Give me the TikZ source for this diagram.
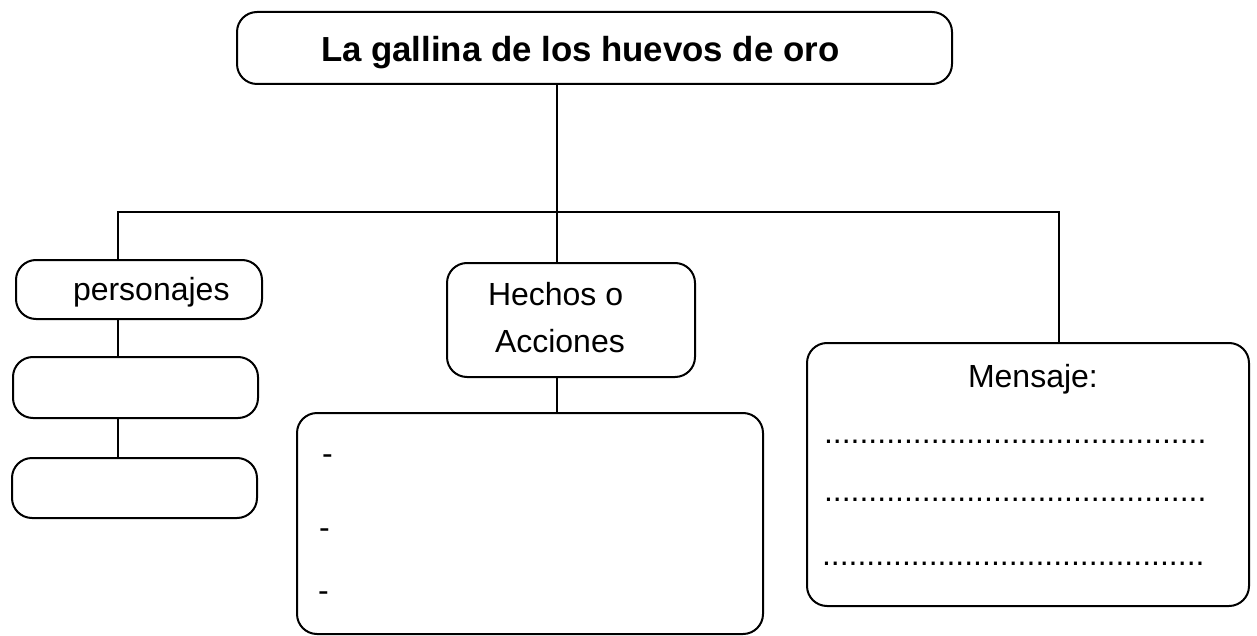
\documentclass[tikz,border=0pt]{standalone}
\usepackage{fontspec}
\setmainfont{Liberation Sans}
\tikzset{
  caja/.style={draw, rounded corners=10pt, line width=1pt, inner sep=0pt},
  texto/.style={font=\fontsize{16}{19}\selectfont, inner sep=0pt, anchor=base west},
  titulotxt/.style={font=\fontsize{17.4}{20}\selectfont\bfseries, inner sep=0pt, anchor=base west},
}
\begin{document}
\begin{tikzpicture}[x=0.5pt, y=-0.5pt, line width=1pt]
  \useasboundingbox (0,0) rectangle (1257,636);
  % cajas
  \node[caja, minimum width=357.5pt, minimum height=36pt] (titulo) at (594.5,48) {};
  \node[caja, minimum width=123pt, minimum height=29.5pt] (personajes) at (139,289.5) {};
  \node[caja, minimum width=122.5pt, minimum height=30.5pt] (pers1) at (135.5,387.5) {};
  \node[caja, minimum width=122.5pt, minimum height=30pt] (pers2) at (134.5,488) {};
  \node[caja, minimum width=124pt, minimum height=57pt] (hechos) at (571,320) {};
  \node[caja, minimum width=233pt, minimum height=110.5pt] (lista) at (530,523.5) {};
  \node[caja, minimum width=221pt, minimum height=131.5pt] (mensaje) at (1028,474.5) {};
  % textos
  \node[titulotxt] (titulotexto) at (320,62) {La gallina de los huevos de oro};
  \node[texto] (perstexto) at (72,300) {personajes};
  \node[texto] (hechostexto) at (487,305) {Hechos o};
  \node[texto] (accionestexto) at (494,352) {Acciones};
  \node[texto] (mensajetexto) at (967,387) {Mensaje:};
  \node[texto] (guion1) at (321,464) {-};
  \node[texto] (guion2) at (318,538) {-};
  \node[texto] (guion3) at (317,601) {-};
  \node[texto] (puntos1) at (823,443) {...........................................};
  \node[texto] (puntos2) at (823,501) {...........................................};
  \node[texto] (puntos3) at (821,565) {...........................................};
  % lineas
  \coordinate (izq) at (118,212);
  \coordinate (rama) at (557,212);
  \coordinate (der) at (1059,212);
  \draw (rama |- titulo.south) -- (rama);
  \draw (izq |- personajes.north) -- (izq) -- (der) -- (der |- mensaje.north);
  \draw (rama) -- (rama |- hechos.north);
  \draw (rama |- hechos.south) -- (rama |- lista.north);
  \draw (izq |- personajes.south) -- (izq |- pers1.north);
  \draw (izq |- pers1.south) -- (izq |- pers2.north);
\end{tikzpicture}
\end{document}
